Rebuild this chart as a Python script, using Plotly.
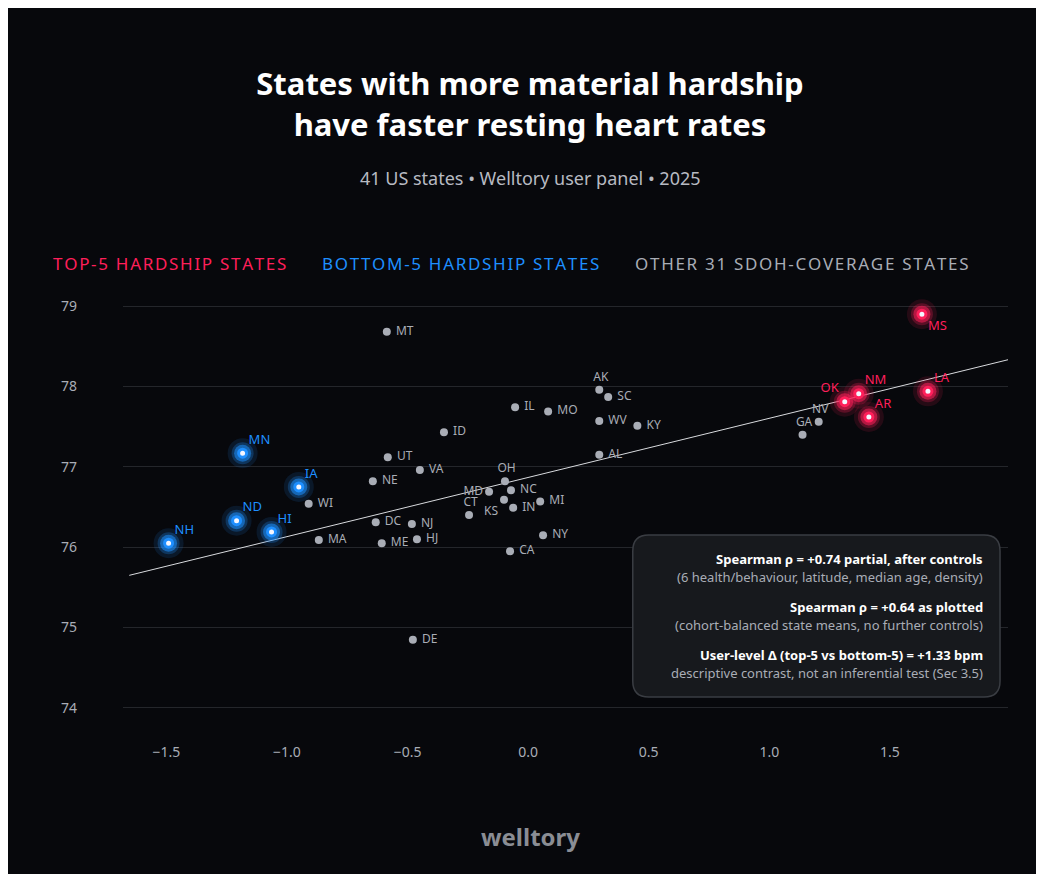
import plotly.graph_objects as go

# hardship index (x) vs mean resting heart rate (y)
other_states = ["MT", "AK", "SC", "IL", "MO", "WV", "KY", "NV", "GA", "ID", "AL", "UT", "VA", "NE", "OH",
                "MD", "NC", "KS", "IN", "MI", "CT", "DC", "NJ", "ME", "HJ", "NY", "CA", "MA", "WI", "DE"]
other_x = [-0.586, 0.295, 0.332, -0.054, 0.083, 0.295, 0.453, 1.205, 1.138, -0.349, 0.295, -0.582, -0.449, -0.644, -0.096,
           -0.162, -0.071, -0.100, -0.062, 0.050, -0.245, -0.632, -0.482, -0.607, -0.461, 0.062, -0.075, -0.868, -0.910, -0.478]
other_y = [78.68, 77.96, 77.87, 77.74, 77.69, 77.57, 77.51, 77.56, 77.40, 77.43, 77.15, 77.12, 76.96, 76.82, 76.82,
           76.69, 76.71, 76.59, 76.49, 76.57, 76.40, 76.31, 76.29, 76.05, 76.10, 76.15, 75.95, 76.09, 76.54, 74.85]
other_pos = ["middle right"] * len(other_states)
other_pos[0:3] = ["middle right", "top center", "middle right"]
other_pos[7:9] = ["top center", "top center"]
other_pos[14:18] = ["top center", "middle left", "middle right", "bottom left"]
other_pos[20] = "top center"

top_states = ["MS", "NM", "OK", "LA", "AR"]
top_x = [1.633, 1.371, 1.313, 1.658, 1.413]
top_y = [78.90, 77.91, 77.81, 77.94, 77.62]

bottom_states = ["MN", "IA", "ND", "HI", "NH"]
bottom_x = [-1.184, -0.951, -1.209, -1.064, -1.491]
bottom_y = [77.17, 76.75, 76.33, 76.19, 76.05]

trend_x = [-1.654, 2.0]
trend_y = [75.65, 78.34]

RED = "#ff1f5a"
BLUE = "#1e8fff"
GREY = "#a9adb6"
BG = "#07080c"
FONT = "Noto Sans"

fig = go.Figure()

fig.add_trace(go.Scatter(x=trend_x, y=trend_y, mode="lines",
                         line=dict(color="#d8dade", width=1), hoverinfo="skip"))

fig.add_trace(go.Scatter(x=other_x, y=other_y, mode="markers+text", text=[" " + s for s in other_states],
                         textposition=other_pos, textfont=dict(color=GREY, size=12, family=FONT),
                         marker=dict(color=GREY, size=8)))

for xs, ys, names, col, pos in [
        (top_x, top_y, top_states, RED, ["bottom right", "top right", "top left", "top right", "top right"]),
        (bottom_x, bottom_y, bottom_states, BLUE, ["top right"] * 5)]:
    for size, op in [(30, 0.12), (22, 0.25), (17, 0.55)]:
        fig.add_trace(go.Scatter(x=xs, y=ys, mode="markers", hoverinfo="skip",
                                 marker=dict(color=col, size=size, opacity=op)))
    fig.add_trace(go.Scatter(x=xs, y=ys, mode="markers+text", text=names, textposition=pos,
                             textfont=dict(color=col, size=13, family=FONT),
                             marker=dict(color="#f4f6ff", size=8, line=dict(color=col, width=3))))

ann = []
legend = [("TOP-5 HARDSHIP STATES", RED, -0.081), ("BOTTOM-5 HARDSHIP STATES", BLUE, 0.223),
          ("OTHER 31 SDOH-COVERAGE STATES", GREY, 0.576)]
for txt, col, xp in legend:
    ann.append(dict(text="\u200a".join(txt), x=xp, y=1.051, xref="paper", yref="paper",
                    xanchor="left", yanchor="middle", showarrow=False,
                    font=dict(color=col, size=17, family=FONT)))

ann.append(dict(text="41 US states • Welltory user panel • 2025", x=0.46, y=1.28, xref="paper", yref="paper",
                showarrow=False, font=dict(color="#b7bac2", size=18, family=FONT)))
ann.append(dict(text="<b>welltory</b>", x=0.46, y=-0.31, xref="paper", yref="paper",
                showarrow=False, font=dict(color="#8a8d94", size=24, family=FONT)))

box_lines = [("<b>Spearman ρ = +0.74 partial, after controls</b>", "#ffffff", 551),
             ("(6 health/behaviour, latitude, median age, density)", "#a9adb6", 569),
             ("<b>Spearman ρ = +0.64 as plotted</b>", "#ffffff", 599),
             ("(cohort-balanced state means, no further controls)", "#a9adb6", 617),
             ("<b>User-level Δ (top-5 vs bottom-5) = +1.33 bpm</b>", "#ffffff", 647),
             ("descriptive contrast, not an inferential test (Sec 3.5)", "#a9adb6", 665)]
for txt, col, py in box_lines:
    ann.append(dict(text=txt, x=0.974, y=(712 - py) / 434, xref="paper", yref="paper",
                    xanchor="right", yanchor="middle", showarrow=False,
                    font=dict(color=col, size=13, family=FONT)))

x0, x1, y0, y1, rx, ry = 0.576, 0.991, 0.053, 0.426, 0.018, 0.037
path = (f"M {x0+rx},{y0} L {x1-rx},{y0} Q {x1},{y0} {x1},{y0+ry} L {x1},{y1-ry} Q {x1},{y1} {x1-rx},{y1} "
        f"L {x0+rx},{y1} Q {x0},{y1} {x0},{y1-ry} L {x0},{y0+ry} Q {x0},{y0} {x0+rx},{y0} Z")

fig.update_layout(
    width=1044, height=874, paper_bgcolor=BG, plot_bgcolor=BG, showlegend=False,
    margin=dict(l=115, r=44, t=278, b=162),
    font=dict(family=FONT, color=GREY),
    title=dict(text="<b>States with more material hardship<br>have faster resting heart rates</b>",
               x=0.5, xanchor="center", y=0.9, yanchor="middle",
               font=dict(size=31, color="white", family=FONT)),
    annotations=ann,
    shapes=[dict(type="path", path=path, xref="paper", yref="paper",
                 fillcolor="#17191d", line=dict(color="#3a3d43", width=1.5))],
)
fig.update_xaxes(range=[-1.68, 1.99], tickvals=[-1.5, -1.0, -0.5, 0, 0.5, 1.0, 1.5],
                 ticktext=["−1.5", "−1.0", "−0.5", "0.0", "0.5", "1.0", "1.5"],
                 showgrid=False, zeroline=False, showline=False, ticklabelstandoff=22,
                 tickfont=dict(size=14, color=GREY))
fig.update_yaxes(range=[73.85, 79.25], tickvals=[74, 75, 76, 77, 78, 79],
                 showgrid=True, gridcolor="#24262b", zeroline=False, showline=False,
                 ticklabelstandoff=45, tickfont=dict(size=14, color=GREY))

fig.write_html("out.html")
